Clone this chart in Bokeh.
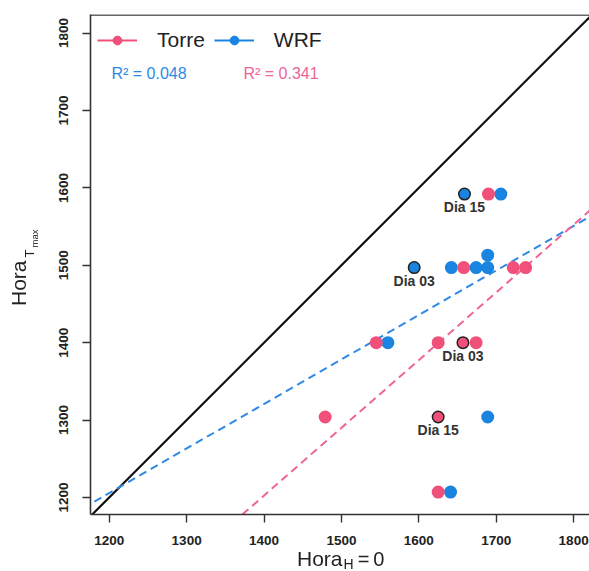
import numpy as np
from bokeh.plotting import figure
from bokeh.layouts import column
from bokeh.models import (Range1d, FixedTicker, Label, Slope, Legend, LegendItem,
                          ColumnDataSource, Span, Div)
from bokeh.embed import file_html
from bokeh.resources import INLINE

# ---------------- data ----------------
torre_x = [1690, 1658, 1722, 1738, 1545, 1625, 1657, 1674, 1479, 1625, 1625]
torre_y = [1592, 1497, 1497, 1497, 1400, 1400, 1400, 1400, 1304, 1304, 1207]
torre_hl = {6: "Dia 03", 9: "Dia 15"}

wrf_x = [1659, 1706, 1594, 1642, 1674, 1689, 1689, 1560, 1689, 1641]
wrf_y = [1592, 1592, 1497, 1497, 1497, 1497, 1513, 1400, 1304, 1207]
wrf_hl = {0: "Dia 15", 2: "Dia 03"}

# linear fits (intercept, slope)
torre_fit = (-22.5, 0.875)
wrf_fit = (515.8, 0.575)
r2_torre = "0.341"
r2_wrf = "0.048"

x_ticks = [1200, 1300, 1400, 1500, 1600, 1700, 1800]
y_ticks = [1200, 1300, 1400, 1500, 1600, 1700, 1800]

# ---------------- style ----------------
PINK = "#F0507A"
BLUE = "#1A85E0"
PINK_L = "#F0649A"
BLUE_L = "#2E8AE6"
FONT = "Liberation Sans"
TC = "#222222"

W, H = 589, 570
ML, MT = 90, 14
FB = 514                      # frame bottom (px)
MB = H - FB
FW, FH = W - ML, FB - MT
S = 1.292                     # data units per pixel
X0 = 1175.8
Y0 = 1178.0
X1 = X0 + FW * S
Y1 = Y0 + FH * S


def dx(px):
    return X0 + (px - ML) * S


def dy(py):
    return Y0 + (FB - py) * S


p = figure(width=W, height=H, output_backend="svg", toolbar_location=None,
           x_range=Range1d(X0, X1), y_range=Range1d(Y0, Y1),
           min_border_left=ML, min_border_right=0, min_border_top=MT,
           min_border_bottom=MB, title=None)
p.outline_line_color = None
p.grid.visible = False
p.background_fill_color = "white"

for ax, ticks in ((p.xaxis, x_ticks), (p.yaxis, y_ticks)):
    ax.ticker = FixedTicker(ticks=ticks)
    ax.major_tick_out = 8
    ax.major_tick_in = 0
    ax.minor_tick_line_color = None
    ax.axis_line_width = 1.6
    ax.axis_line_color = "#333333"
    ax.major_tick_line_width = 1.4
    ax.major_tick_line_color = "#333333"
    ax.major_label_text_font = FONT
    ax.major_label_text_font_style = "bold"
    ax.major_label_text_font_size = "13.5px"
    ax.major_label_text_color = TC
p.xaxis.major_label_standoff = 13
p.yaxis.major_label_standoff = 14
p.yaxis.major_label_orientation = "vertical"

p.add_layout(Span(location=Y1 - 0.7, dimension="width", line_color="#333333",
                  line_width=1.6))

# lines
p.add_layout(Slope(gradient=1.0, y_intercept=0.0, line_color="#111111",
                   line_width=2.2, level="underlay"))
p.add_layout(Slope(gradient=wrf_fit[1], y_intercept=wrf_fit[0], line_color=BLUE_L,
                   line_width=2, line_dash="8 5", level="underlay"))
p.add_layout(Slope(gradient=torre_fit[1], y_intercept=torre_fit[0], line_color=PINK_L,
                   line_width=2, line_dash="8 5", level="underlay"))


def series(xs, ys, hl, color):
    lc = ["#222222" if i in hl else color for i in range(len(xs))]
    src = ColumnDataSource(dict(x=xs, y=ys, lc=lc))
    p.scatter("x", "y", source=src, size=11.5, fill_color=color,
              line_color="lc", line_width=1.5)
    for i, name in hl.items():
        p.add_layout(Label(x=xs[i], y=ys[i], text=name, text_align="center",
                           text_baseline="middle", y_offset=-13,
                           text_font=FONT, text_font_style="bold",
                           text_font_size="14px", text_color="#333333"))


series(wrf_x, wrf_y, wrf_hl, BLUE)
series(torre_x, torre_y, torre_hl, PINK)

# legend (sample renderers hold one NaN point so nothing is drawn in the plot)
nan = [float("nan")]
lt = p.line(x=nan, y=nan, line_color=PINK, line_width=2)
st = p.scatter(x=nan, y=nan, fill_color=PINK, line_color=PINK, size=9)
lw = p.line(x=nan, y=nan, line_color=BLUE, line_width=2)
sw = p.scatter(x=nan, y=nan, fill_color=BLUE, line_color=BLUE, size=9)
legend = Legend(items=[LegendItem(label="Torre", renderers=[lt, st]),
                       LegendItem(label="WRF", renderers=[lw, sw])],
                orientation="horizontal", location=(7, FB - 28 - 24),
                glyph_width=40, glyph_height=22, label_height=22,
                label_standoff=20, spacing=9,
                padding=0, margin=0, border_line_color=None,
                background_fill_alpha=0, label_text_font=FONT,
                label_text_font_size="21px", label_text_color=TC)
p.add_layout(legend)

# R^2 texts
p.add_layout(Label(x=dx(111), y=dy(81), text="R\u00b2 = " + r2_wrf,
                   text_font=FONT, text_font_size="16px", text_color=BLUE_L))
p.add_layout(Label(x=dx(243), y=dy(81), text="R\u00b2 = " + r2_torre,
                   text_font=FONT, text_font_size="16px", text_color=PINK_L))

# axis titles: fixed-position html text
titles = Div(width=1, height=1, text=(
    # y title
    "<div style=\"position:fixed; left:8px; top:306px; transform-origin:0 0;"
    " transform:rotate(-90deg); white-space:nowrap; line-height:1;"
    " font-family:'Liberation Sans'; font-size:21px; color:#222222\">Hora"
    "<span style=\"position:relative; top:8px; margin-left:3px; font-size:13px\">T"
    "<span style=\"position:relative; top:4px; margin-left:2px; font-size:9.5px\">max"
    "</span></span></div>"
    # x title
    "<div style=\"position:fixed; left:297px; top:548px; white-space:nowrap;"
    " line-height:1; font-family:'Liberation Sans'; font-size:21px;"
    " color:#222222\">Hora"
    "<span style=\"position:relative; top:3px; margin-left:1px; font-size:14px\">H</span>"
    "<span style=\"margin-left:4px; font-size:20px\">=</span>"
    "<span style=\"margin-left:4px; font-size:20px\">0</span></div>"))

layout = column(p, titles, spacing=0)
open("out.html", "w").write(file_html(layout, INLINE))
